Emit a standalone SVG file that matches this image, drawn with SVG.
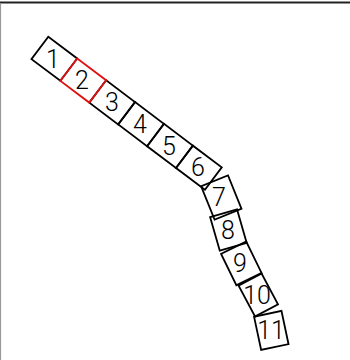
<svg xmlns="http://www.w3.org/2000/svg" width="350" height="360" viewBox="0 0 350 360">
<style>
.b{fill:none;stroke:#000;stroke-width:1.8}
.r{fill:none;stroke:#e01010;stroke-width:1.8}
.t{font-family:Roboto,"Liberation Sans",sans-serif;font-weight:300;font-size:25px;text-anchor:middle;fill:#000}
</style>
<rect width="350" height="360" fill="#fff"/>
<line x1="0" y1="2.5" x2="350" y2="2.5" stroke="#222" stroke-width="2"/>
<line x1="0.5" y1="3" x2="0.5" y2="360" stroke="#999" stroke-width="1.2"/>
<g id="connectors"></g>
<g id="n1"><rect class="b" x="0" y="0" width="36.2" height="28" transform="translate(48.3,36.7) rotate(37)"/><text class="t" x="53" y="67.5">1</text></g>
<g id="n3"><rect class="b" x="72.4" y="0" width="36.2" height="28" transform="translate(48.3,36.7) rotate(37)"/><text class="t" x="112" y="111">3</text></g>
<g id="n4"><rect class="b" x="108.6" y="0" width="36.2" height="28" transform="translate(48.3,36.7) rotate(37)"/><text class="t" x="140" y="133">4</text></g>
<g id="n5"><rect class="b" x="144.8" y="0" width="36.2" height="28" transform="translate(48.3,36.7) rotate(37)"/><text class="t" x="169" y="155">5</text></g>
<g id="n6"><rect class="b" x="181" y="0" width="36.2" height="28" transform="translate(48.3,36.7) rotate(37)"/><text class="t" x="198" y="176">6</text></g>
<g id="n2"><rect class="r" x="36.2" y="0" width="36.2" height="28" transform="translate(48.3,36.7) rotate(37)"/><text class="t" x="82" y="89">2</text></g>
<g id="n7"><rect class="b" x="-14.5" y="-18" width="29" height="36" transform="translate(221.3,197.5) rotate(-22)"/><text class="t" x="219" y="206">7</text></g>
<g id="n8"><rect class="b" x="-14" y="-17.5" width="28" height="35" transform="translate(228.4,230) rotate(-16)"/><text class="t" x="228" y="239">8</text></g>
<g id="n9"><rect class="b" x="-14" y="-17.5" width="28" height="35" transform="translate(241.3,263.4) rotate(-26)"/><text class="t" x="240" y="272">9</text></g>
<g id="n10"><rect class="b" x="-13" y="-17.5" width="26" height="35" transform="translate(258.3,295) rotate(-28)"/><text class="t" x="257" y="304">10</text></g>
<g id="n11"><rect class="b" x="-14" y="-17" width="28" height="34" transform="translate(271.3,330.4) rotate(-12)"/><text class="t" x="271" y="339">11</text></g>
</svg>
